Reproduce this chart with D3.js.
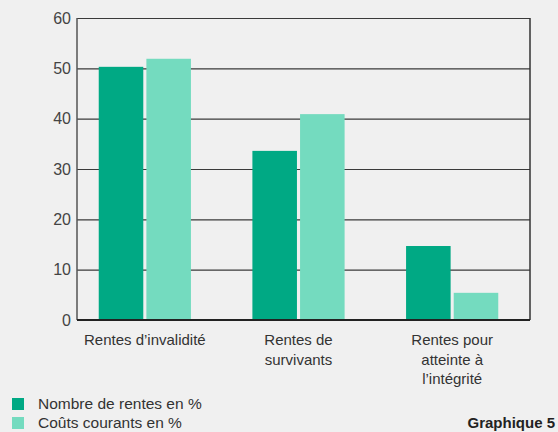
<!DOCTYPE html>
<html>
<head>
<meta charset="utf-8">
<script src="https://cdn.jsdelivr.net/npm/d3@7/dist/d3.min.js"></script>
<style>
  html, body { margin: 0; padding: 0; background: #f0f0f0; }
  svg { display: block; font-family: "Liberation Sans", Arial, sans-serif; }
</style>
</head>
<body>
<div id="chart"></div>
<script>
// data
const categories = [
  ["Rentes d\u2019invalidité"],
  ["Rentes de", "survivants"],
  ["Rentes pour", "atteinte à", "l\u2019intégrité"]
]
const seriesNames = ["Nombre de rentes en %", "Coûts courants en %"]
const nombreRentes = [50.3, 33.6, 14.7]
const coutsCourants = [51.9, 40.9, 5.4]
const yTicks = [0, 10, 20, 30, 40, 50, 60]
const colors = ["#00a984", "#74dbbf"]

const width = 558
const height = 432
const plot = { left: 77, right: 530, top: 18, bottom: 320 }

const svg = d3.select('#chart')
  .append('svg')
  .attr('width', width)
  .attr('height', height)

svg.append('rect')
  .attr('width', width)
  .attr('height', height)
  .attr('fill', '#f0f0f0')

const y = d3.scaleLinear().domain([0, 60]).range([plot.bottom, plot.top])

const x0 = d3.scaleBand()
  .domain(d3.range(categories.length))
  .range([68, 529])
  .paddingInner(0.4)
  .paddingOuter(0.2)

const x1 = d3.scaleBand()
  .domain([0, 1])
  .range([0, x0.bandwidth()])
  .paddingInner(0.065)

// gridlines + tick labels
const yAxis = d3.axisLeft(y)
  .tickValues(yTicks)
  .tickSize(-(plot.right - plot.left))
  .tickPadding(6)
const gy = svg.append('g')
  .attr('transform', 'translate(' + plot.left + ',0)')
  .call(yAxis)
gy.select('.domain').remove()
gy.selectAll('.tick line')
  .attr('stroke', '#3a3a3a')
  .attr('stroke-width', 1.2)
gy.selectAll('.tick text')
  .attr('fill', '#444')
  .attr('font-size', 16)
  .attr('x', -6)

// bars
const rows = categories.map(function (c, i) { return [nombreRentes[i], coutsCourants[i]] })
const groups = svg.append('g')
  .selectAll('g')
  .data(rows)
  .enter()
  .append('g')
  .attr('transform', function (d, i) { return 'translate(' + x0(i) + ',0)' })

groups.selectAll('rect')
  .data(function (d) { return d })
  .enter()
  .append('rect')
  .attr('x', function (d, j) { return x1(j) })
  .attr('width', x1.bandwidth())
  .attr('y', function (d) { return y(d) })
  .attr('height', function (d) { return y(0) - y(d) })
  .attr('fill', function (d, j) { return colors[j] })

// frame: left axis, right border, baseline
svg.append('line')
  .attr('x1', plot.left).attr('x2', plot.left)
  .attr('y1', plot.top).attr('y2', plot.bottom)
  .attr('stroke', '#555').attr('stroke-width', 1.5)
svg.append('line')
  .attr('x1', plot.right).attr('x2', plot.right)
  .attr('y1', plot.top).attr('y2', plot.bottom)
  .attr('stroke', '#333').attr('stroke-width', 1.5)
svg.append('line')
  .attr('x1', plot.left).attr('x2', plot.right)
  .attr('y1', plot.bottom).attr('y2', plot.bottom)
  .attr('stroke', '#222').attr('stroke-width', 2)

// category labels
const labels = svg.append('g')
  .selectAll('text')
  .data(categories)
  .enter()
  .append('text')
  .attr('text-anchor', 'middle')
  .attr('fill', '#333')
  .attr('font-size', 15)
  .attr('transform', function (d, i) { return 'translate(' + (x0(i) + x0.bandwidth() / 2) + ',345)' })
labels.selectAll('tspan')
  .data(function (d) { return d })
  .enter()
  .append('tspan')
  .attr('x', 0)
  .attr('y', function (d, k) { return k * 19.5 })
  .text(function (d) { return d })

// legend
const legend = svg.append('g')
  .selectAll('g')
  .data(seriesNames)
  .enter()
  .append('g')
  .attr('transform', function (d, i) { return 'translate(12,' + (398 + i * 19) + ')' })
legend.append('rect')
  .attr('width', 12)
  .attr('height', 12)
  .attr('fill', function (d, i) { return colors[i] })
legend.append('text')
  .attr('x', 26)
  .attr('y', 11)
  .attr('font-size', 15.5)
  .attr('fill', '#333')
  .text(function (d) { return d })

svg.append('text')
  .attr('x', 555)
  .attr('y', 428)
  .attr('text-anchor', 'end')
  .attr('font-size', 15)
  .attr('font-weight', 'bold')
  .attr('fill', '#222')
  .text('Graphique 5')
</script>
</body>
</html>
